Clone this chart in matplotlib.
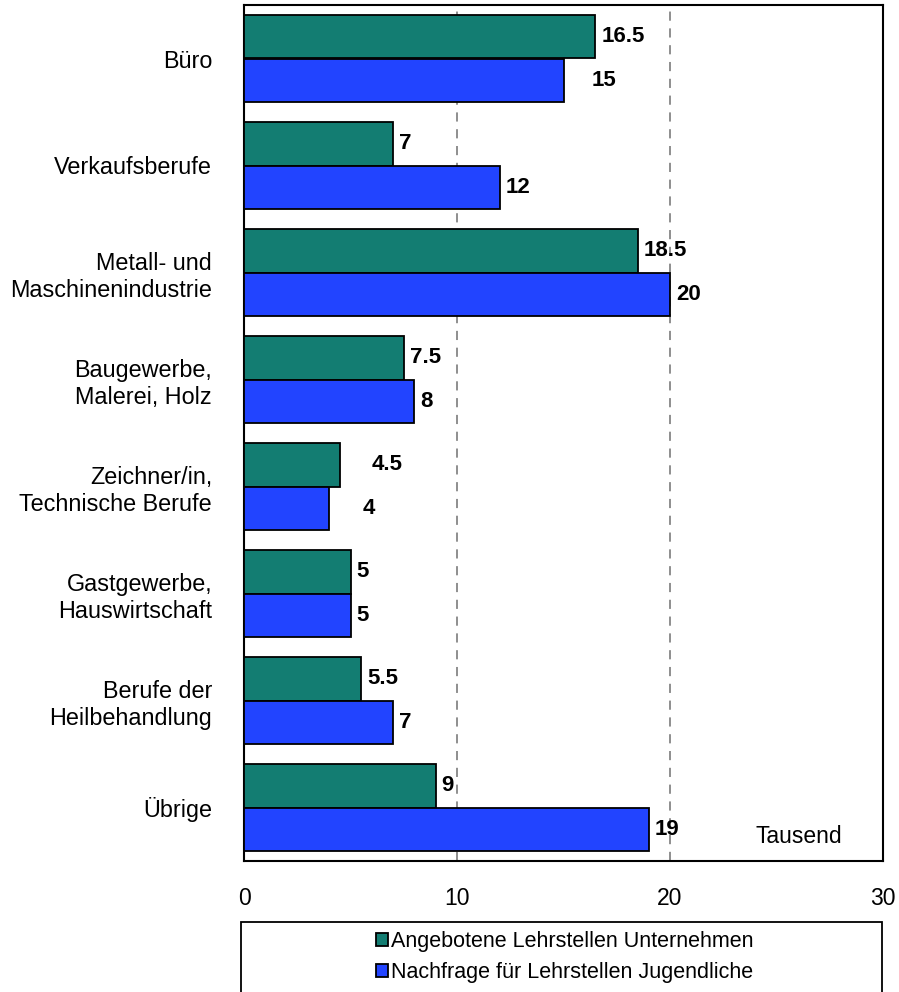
import matplotlib.pyplot as plt
import matplotlib.patches as mpatches
import numpy as np

plt.rcParams['font.family'] = ['Liberation Sans', 'DejaVu Sans']

kategorien = ['Büro', 'Verkaufsberufe', 'Metall- und\nMaschinenindustrie',
              'Baugewerbe,\nMalerei, Holz', 'Zeichner/in,\nTechnische Berufe',
              'Gastgewerbe,\nHauswirtschaft', 'Berufe der\nHeilbehandlung', 'Übrige']
angebot = [16.5, 7, 18.5, 7.5, 4.5, 5, 5.5, 9]
nachfrage = [15, 12, 20, 8, 4, 5, 7, 19]
labels_angebot = ['16.5', '7', '18.5', '7.5', '4.5', '5', '5.5', '9']
labels_nachfrage = ['15', '12', '20', '8', '4', '5', '7', '19']
xticks = [0, 10, 20, 30]

gruen = '#137D72'
blau = '#2244FF'

fig = plt.figure(figsize=(8.99, 9.92), dpi=100)
ax = fig.add_axes([244 / 899, 1 - 861 / 992, (883 - 244) / 899, (861 - 5) / 992])

y = np.arange(len(kategorien))
h = 0.41

ax.barh(y - h / 2, angebot, height=h, color=gruen, edgecolor='black', linewidth=1.3,
        label='Angebotene Lehrstellen Unternehmen', zorder=3)
ax.barh(y + h / 2, nachfrage, height=h, color=blau, edgecolor='black', linewidth=1.3,
        label='Nachfrage für Lehrstellen Jugendliche', zorder=3)

# einige Beschriftungen stehen etwas weiter rechts
extra = {(0, 1): 22, (4, 0): 26, (4, 1): 27}

for i in range(len(kategorien)):
    for s, (werte, texte, dy) in enumerate([(angebot, labels_angebot, -h / 2),
                                             (nachfrage, labels_nachfrage, h / 2)]):
        ax.annotate(texte[i], xy=(werte[i], y[i] + dy),
                    xytext=(6 + extra.get((i, s), 0), 0), textcoords='offset pixels',
                    ha='left', va='center', fontsize=16, fontweight='bold', zorder=4)

ax.set_xlim(0, 30)
ax.set_ylim(len(kategorien) - 0.5, -0.5)
ax.set_xticks(xticks)
ax.set_xticklabels([str(t) for t in xticks], fontsize=16.5)
ax.set_yticks(y)
ax.set_yticklabels(kategorien, fontsize=16.8, ha='right', multialignment='right')
ax.tick_params(axis='x', length=0, pad=19)
ax.tick_params(axis='y', length=0, pad=23)

for t in [10, 20]:
    ax.axvline(t, color='#707070', linestyle=(0, (6, 5)), linewidth=1.1, zorder=1)

for sp in ax.spines.values():
    sp.set_linewidth(1.5)
    sp.set_color('black')

ax.text(28.1, 7.27, 'Tausend', ha='right', va='center', fontsize=16.5)

# Rahmen der Legende
box = mpatches.Rectangle((241 / 899, -0.05), (882 - 241) / 899, 0.05 + (992 - 922) / 992,
                         transform=fig.transFigure, fill=False, edgecolor='black',
                         linewidth=1.3)
fig.patches.append(box)

fig.legend(loc='center', bbox_to_anchor=(565 / 899, 1 - 957 / 992), frameon=False,
           fontsize=15.5, handlelength=0.55, handleheight=0.55, handletextpad=0.15,
           labelspacing=0.45, borderpad=0)

fig.savefig('out.png', dpi=100)
